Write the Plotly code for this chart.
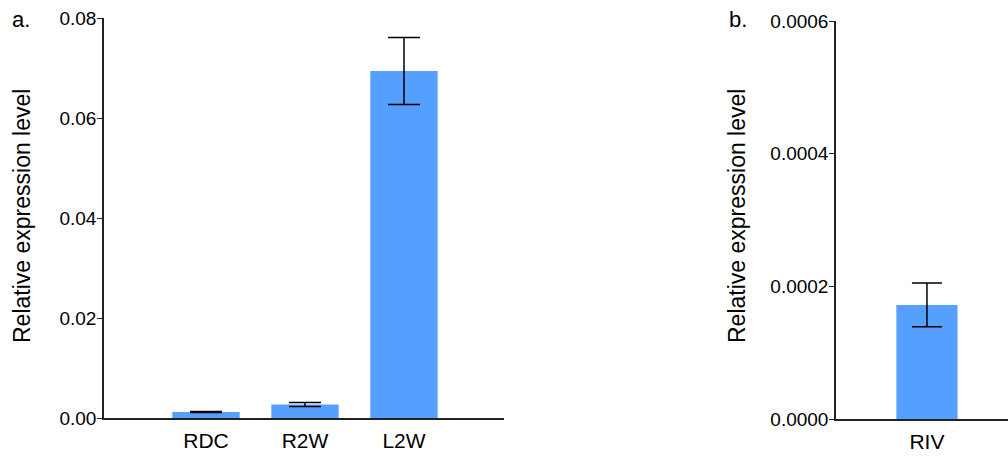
import plotly.graph_objects as go

# Panel a data
cats_a = ["RDC", "R2W", "L2W"]
vals_a = [0.0012, 0.0027, 0.0694]
errs_a = [0.0001, 0.0004, 0.0067]
yticks_a = [0.00, 0.02, 0.04, 0.06, 0.08]

# Panel b data
cats_b = ["RIV"]
vals_b = [0.000172]
errs_b = [0.000033]
yticks_b = [0.0, 0.0002, 0.0004, 0.0006]

BAR = "#559FFF"
FONT = "Liberation Sans, Arial, sans-serif"
W, H = 1008, 457

def px(p):
    return p / W

def py(p):
    return (H - p) / H

fig = go.Figure()
fig.add_trace(go.Bar(
    x=cats_a, y=vals_a, width=0.68, marker=dict(color=BAR, line=dict(width=0)),
    error_y=dict(type="data", array=errs_a, color="black", thickness=1.5, width=16),
    xaxis="x", yaxis="y", showlegend=False, hoverinfo="skip"))
fig.add_trace(go.Bar(
    x=cats_b, y=vals_b, width=0.68, marker=dict(color=BAR, line=dict(width=0)),
    error_y=dict(type="data", array=errs_b, color="black", thickness=1.5, width=15),
    xaxis="x2", yaxis="y2", showlegend=False, hoverinfo="skip"))

axis_common = dict(showgrid=False, zeroline=False, showline=True, linecolor="#222",
                   linewidth=1.5, automargin=False, ticklabeloverflow="allow")

fig.update_layout(
    width=W, height=H, margin=dict(l=0, r=0, t=0, b=0),
    plot_bgcolor="white", paper_bgcolor="white",
    font=dict(family=FONT, color="black"),
    xaxis=dict(domain=[px(104), px(504)], range=[-1.03, 3.01], anchor="y",
               ticks="", tickfont=dict(size=21), ticklabelstandoff=3, **axis_common),
    yaxis=dict(domain=[py(418), py(18)], range=[0, 0.08], anchor="x",
               tickvals=yticks_a, tickformat=".2f", ticks="outside", ticklen=5,
               tickwidth=1.2, tickcolor="#222", tickfont=dict(size=19),
               ticklabelstandoff=-3, **axis_common),
    xaxis2=dict(domain=[px(836), 1.0], range=[-1.01, 0.9], anchor="y2",
                ticks="", tickfont=dict(size=21), ticklabelstandoff=3, **axis_common),
    yaxis2=dict(domain=[py(419), py(21)], range=[0, 0.0006], anchor="x2",
                tickvals=yticks_b, tickformat=".4f", ticks="outside", ticklen=5,
                tickwidth=1.2, tickcolor="#222", tickfont=dict(size=19),
                ticklabelstandoff=-3, **axis_common),
)

for x, txt in [(22, "Relative expression level"), (737, "Relative expression level")]:
    fig.add_annotation(x=px(x), y=py(216), xref="paper", yref="paper", text=txt,
                       textangle=-90, showarrow=False, font=dict(size=23),
                       xanchor="center", yanchor="middle")
for x, txt in [(21, "a."), (738, "b.")]:
    fig.add_annotation(x=px(x), y=py(19), xref="paper", yref="paper", text=txt,
                       showarrow=False, font=dict(size=22),
                       xanchor="center", yanchor="middle")

fig.write_html("out.html", config={"displayModeBar": False},
               post_script="document.body.style.margin='0';document.body.style.padding='0';")
